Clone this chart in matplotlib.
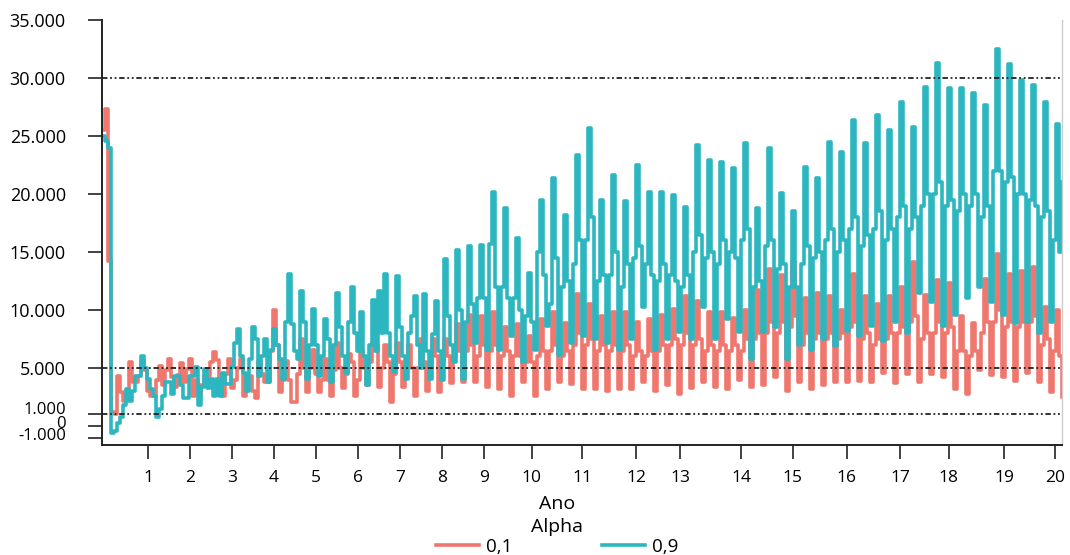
import numpy as np
import matplotlib
matplotlib.use("Agg")
import matplotlib.pyplot as plt
from matplotlib.ticker import FixedLocator, FixedFormatter
from matplotlib.transforms import ScaledTranslation

plt.rcParams['font.family'] = ['Open Sans', 'DejaVu Sans']

# values in thousands, one point per period
alpha_01 = [
    25.5, 27.3, 14.2, 1.2, 1.0, 4.3, 2.9, 2.2, 3.0, 5.5, 3.8, 3.8, 4.3, 5.6, 4.8, 3.0,
    2.6, 2.6, 4.0, 5.2, 3.5, 4.8, 5.8, 4.2, 3.4, 4.4, 5.4, 3.8, 4.9, 5.8, 2.6, 4.0,
    2.8, 3.5, 4.3, 4.3, 5.5, 6.4, 5.7, 4.0, 2.6, 4.5, 5.8, 3.3, 4.0, 5.0, 5.8, 2.6,
    4.3, 4.3, 3.0, 2.4, 5.6, 4.5, 3.8, 3.8, 6.5, 10.0, 7.0, 2.9, 4.0, 5.6, 4.0, 2.1,
    2.1, 4.5, 7.5, 5.0, 2.9, 5.0, 6.6, 4.5, 2.9, 4.0, 5.8, 4.0, 2.6, 4.8, 7.2, 5.0,
    3.3, 4.5, 6.2, 5.5, 2.6, 4.0, 6.5, 5.0, 3.5, 5.5, 7.2, 7.0, 3.4, 5.0, 7.0, 5.5,
    2.1, 4.5, 7.2, 5.5, 3.4, 5.0, 7.0, 5.0, 2.6, 5.0, 7.5, 5.5, 3.0, 5.0, 7.5, 6.0,
    2.9, 5.5, 7.5, 6.0, 3.7, 6.0, 8.8, 6.5, 3.8, 6.5, 9.6, 7.0, 3.8, 6.0, 9.5, 7.0,
    3.4, 6.5, 9.8, 7.0, 3.2, 6.0, 8.5, 6.5, 2.6, 6.0, 8.8, 6.0, 3.8, 5.5, 7.8, 5.5,
    2.6, 6.0, 9.2, 6.5, 3.2, 6.5, 9.8, 7.0, 3.8, 6.0, 8.9, 6.5, 3.6, 7.0, 11.4, 8.0,
    3.2, 7.0, 10.5, 7.5, 3.2, 6.5, 9.5, 7.0, 3.0, 6.5, 9.8, 7.0, 3.2, 6.5, 9.8, 7.0,
    3.2, 6.0, 9.0, 6.5, 3.8, 6.0, 9.2, 6.5, 3.0, 6.5, 9.6, 7.0, 3.5, 7.0, 10.1, 7.5,
    2.8, 7.0, 11.2, 8.0, 3.3, 7.0, 10.8, 7.5, 3.8, 6.5, 9.8, 7.0, 3.4, 6.5, 9.8, 7.0,
    3.2, 6.5, 9.3, 7.0, 4.0, 6.5, 10.0, 7.5, 3.4, 7.5, 11.7, 8.0, 3.5, 8.0, 13.5, 9.0,
    4.2, 8.0, 13.0, 9.0, 3.0, 8.5, 14.2, 9.5, 3.8, 7.0, 11.0, 8.0, 3.2, 7.5, 11.5, 8.0,
    3.5, 7.5, 11.2, 8.0, 3.8, 7.5, 10.0, 8.0, 3.8, 8.5, 13.1, 9.0, 3.9, 7.5, 11.2, 8.0,
    3.8, 7.0, 10.5, 7.5, 4.6, 7.5, 11.2, 8.0, 3.7, 8.0, 12.0, 8.5, 4.5, 9.0, 14.1, 9.5,
    3.8, 7.5, 11.3, 8.0, 4.5, 8.0, 12.6, 9.0, 4.2, 8.0, 12.3, 8.5, 3.2, 6.5, 9.5, 6.5,
    2.8, 6.0, 8.9, 6.5, 4.8, 8.0, 12.7, 9.0, 4.4, 9.0, 14.8, 10.0, 4.2, 8.5, 13.1, 9.0,
    3.9, 8.5, 13.4, 9.0, 4.6, 9.0, 13.7, 9.5, 3.8, 7.0, 10.3, 7.5, 2.9, 6.5, 10.0, 6.0,
    2.5,
]

alpha_09 = [
    25.0, 24.6, 24.0, -0.6, -0.4, 0.3, 0.8, 1.8, 3.2, 2.2, 3.0, 4.3, 4.3, 6.0, 5.0, 4.1,
    3.2, 2.6, 0.8, 1.5, 2.6, 3.8, 3.8, 2.8, 4.3, 4.3, 3.5, 2.4, 2.4, 4.3, 4.3, 5.1,
    1.8, 3.4, 4.9, 3.3, 4.1, 2.6, 4.1, 2.6, 4.6, 3.6, 3.6, 5.1, 7.2, 8.4, 6.0, 4.6,
    3.0, 5.8, 8.5, 7.5, 4.3, 6.0, 7.5, 3.8, 6.6, 8.4, 7.0, 5.8, 4.1, 9.0, 13.1, 8.8,
    6.5, 5.8, 11.6, 9.0, 4.1, 7.0, 10.1, 7.0, 4.3, 6.0, 9.2, 7.5, 3.8, 7.0, 11.5, 8.5,
    6.0, 4.6, 9.0, 12.0, 8.0, 6.5, 9.8, 6.0, 3.5, 7.0, 10.9, 6.5, 11.6, 8.0, 13.1, 8.0,
    6.0, 4.7, 12.9, 8.5, 6.0, 4.1, 8.0, 9.5, 11.2, 7.0, 5.0, 11.4, 6.5, 4.1, 7.9, 10.8,
    6.5, 4.0, 14.4, 9.5, 7.0, 5.5, 15.2, 10.0,
    4.1, 9.0, 15.5, 10.5, 7.2, 11.0, 15.6, 11.0, 6.6, 15.7, 20.2, 12.0, 6.6, 12.0, 18.8, 11.0,
    7.8, 11.0, 16.2, 10.0, 5.5, 9.5, 13.2, 9.0, 6.6, 15.0, 19.5, 13.0, 8.6, 10.5, 21.4, 14.5,
    6.1, 12.0, 18.2, 12.5, 7.2, 14.0, 23.4, 16.0, 7.8, 16.0, 25.7, 18.0, 7.5, 12.5, 19.5, 13.0,
    7.2, 13.0, 21.6, 15.0, 6.6, 12.0, 19.4, 14.0, 7.5, 14.5, 22.5, 15.5, 10.3, 14.0, 20.2, 13.0,
    6.6, 12.5, 20.2, 14.0, 7.5, 13.0, 19.9, 12.5, 8.1, 12.0, 18.9, 13.0, 7.5, 15.0, 24.2, 16.5,
    10.3, 14.5, 22.9, 15.0, 7.5, 14.0, 22.8, 16.0, 9.2, 15.0, 22.2, 14.5, 8.1, 16.0, 24.4, 17.0,
    5.8, 12.0, 18.8, 12.5, 8.1, 15.5, 24.0, 16.0, 8.5, 13.5, 20.1, 14.0, 5.8, 12.0, 18.5, 12.0,
    7.0, 14.0, 22.3, 15.5, 6.6, 14.5, 21.4, 15.0, 7.5, 16.0, 24.5, 17.0, 6.9, 15.0, 23.6, 16.0,
    8.2, 17.0, 26.4, 18.0, 7.8, 15.5, 24.4, 16.5, 8.6, 17.0, 26.8, 18.5, 7.3, 16.0, 25.5, 17.0,
    9.0, 18.0, 27.9, 19.0, 8.0, 17.0, 25.8, 18.0, 11.5, 19.0, 29.2, 20.0, 10.7, 20.0, 31.3, 21.0,
    8.6, 19.0, 29.1, 19.5, 9.6, 18.5, 29.1, 20.0, 11.0, 19.0, 28.7, 20.0, 12.0, 18.0, 27.7, 19.0,
    10.7, 22.0, 32.5, 22.0, 9.6, 21.0, 31.2, 21.5, 8.9, 20.0, 29.8, 20.0, 9.0, 19.5, 29.4, 19.0,
    8.0, 18.0, 27.9, 18.5, 9.0, 16.0, 26.0, 15.0,
    21.0,
]

# year ticks, in period index
ano_pos = [15.4, 29.3, 43.4, 57.3, 71.4, 85.4, 99.4, 113.4, 127.4, 143.2,
           160.0, 178.0, 192.7, 213.0, 230.3, 248.3, 266.0, 282.3, 300.7, 317.7]
ano_lab = [str(a) for a in range(1, 21)]

y_ticks = [-1000, 0, 1000, 5000, 10000, 15000, 20000, 25000, 30000, 35000]
y_labs = ['-1.000', '0', '1.000', '5.000', '10.000', '15.000', '20.000',
          '25.000', '30.000', '35.000']
ref_lines = [30000, 5000, 1000]

red = '#F0776E'
teal = '#2CB6BF'

fig = plt.figure(figsize=(10.7, 5.55), dpi=100)
ax = fig.add_axes([0.0953, 0.1982, 0.8972, 0.7658])

t1 = np.arange(len(alpha_01))
t9 = np.arange(len(alpha_09))
l1, = ax.plot(t1, np.array(alpha_01) * 1000, drawstyle='steps-post', color=red, lw=2.6, label='0,1')
l9, = ax.plot(t9, np.array(alpha_09) * 1000, drawstyle='steps-post', color=teal, lw=2.6, label='0,9')

for v in ref_lines:
    ax.axhline(v, color='#222222', lw=1.3, ls=(0, (3, 1.5, 1, 1.5, 1, 1.5)), zorder=5)

ax.set_xlim(0, 320)
ax.set_ylim(-1630, 35000)
ax.xaxis.set_major_locator(FixedLocator(ano_pos))
ax.xaxis.set_major_formatter(FixedFormatter(ano_lab))
ax.yaxis.set_major_locator(FixedLocator(y_ticks))
ax.yaxis.set_major_formatter(FixedFormatter(y_labs))
ax.tick_params(axis='both', length=10, width=1.2, color='#222222')
ax.tick_params(axis='y', labelsize=13, pad=16)
ax.tick_params(axis='x', labelsize=12.5, pad=8)

# the three crowded labels near zero sit slightly above their ticks
fig.canvas.draw()
for lab, dy in zip(ax.get_yticklabels()[:3], [4, 4, 6]):
    lab.set_transform(lab.get_transform() + ScaledTranslation(0, dy / 100, fig.dpi_scale_trans))
    lab.set_fontsize(12)

ax.spines['top'].set_visible(False)
ax.spines['right'].set_color('#cccccc')
ax.spines['right'].set_linewidth(1)
for s in ['left', 'bottom']:
    ax.spines[s].set_linewidth(1.4)
    ax.spines[s].set_color('#222222')

fig.text(557 / 1070, 1 - 504 / 555, 'Ano', ha='center', va='center', fontsize=14)
leg = fig.legend(handles=[l1, l9], title='Alpha', loc='lower center',
                 bbox_to_anchor=(557 / 1070, -0.022), ncol=2, frameon=False,
                 fontsize=13.5, title_fontsize=14, handlelength=2.3,
                 columnspacing=4.8, handletextpad=0.35, borderpad=0.1, labelspacing=0.1)

fig.savefig('out.png', dpi=100)
